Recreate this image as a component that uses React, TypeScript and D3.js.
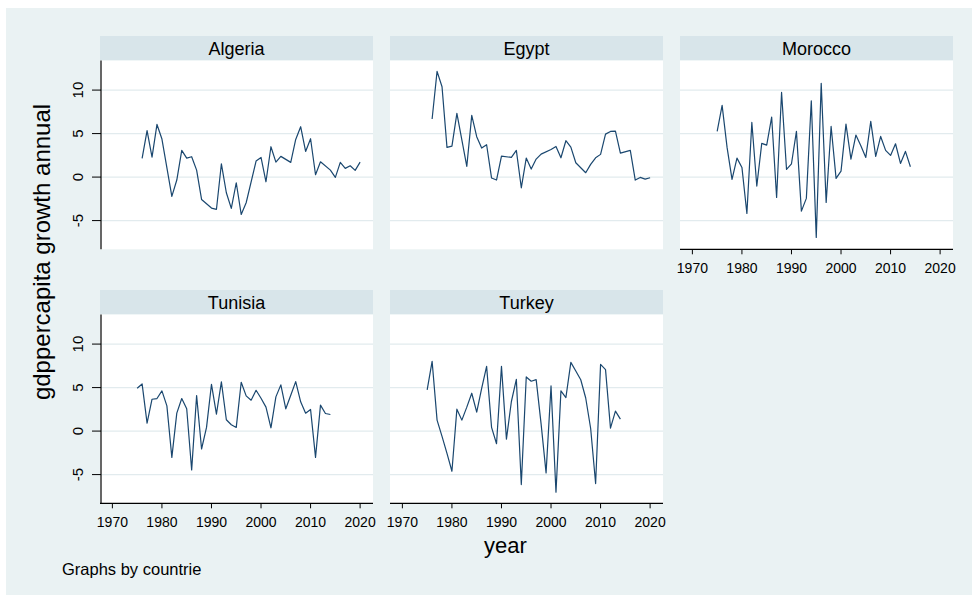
import React from "react";
import * as d3 from "d3";

const countries = ["Algeria", "Egypt", "Morocco", "Tunisia", "Turkey"];

const algeriaYears = [1976,1977,1978,1979,1980,1982,1983,1984,1985,1986,1987,1988,1990,1991,1992,1993,1994,1995,1996,1997,1999,2000,2001,2002,2003,2004,2006,2007,2008,2009,2010,2011,2012,2014,2015,2016,2017,2018,2019,2020];
const algeriaGrowth = [2.15,5.33,2.3,6.05,4.37,-2.22,-0.34,3.07,2.18,2.34,0.8,-2.57,-3.56,-3.72,1.53,-1.8,-3.6,-0.65,-4.29,-2.95,1.84,2.26,-0.54,3.49,1.72,2.38,1.69,4.33,5.79,2.95,4.41,0.27,1.76,0.8,-0.04,1.69,1.0,1.3,0.77,1.72];

const egyptYears = [1976,1977,1978,1979,1980,1981,1983,1984,1985,1986,1987,1988,1989,1990,1992,1993,1994,1995,1996,1997,1998,2000,2001,2002,2003,2004,2005,2007,2008,2009,2010,2011,2012,2013,2014,2016,2017,2018,2019,2020];
const egyptGrowth = [6.67,12.15,10.38,3.41,3.56,7.32,1.23,7.09,4.64,3.33,3.72,-0.11,-0.34,2.41,2.26,3.07,-1.23,2.18,0.92,2.07,2.64,3.18,3.52,2.22,4.18,3.45,1.65,0.5,1.46,2.22,2.61,4.94,5.25,5.29,2.76,3.07,-0.34,-0.04,-0.23,-0.08];

const moroccoYears = [1975,1976,1977,1978,1979,1980,1981,1982,1983,1984,1985,1986,1987,1988,1989,1990,1991,1992,1993,1994,1995,1996,1997,1998,1999,2000,2001,2002,2003,2004,2005,2006,2007,2008,2009,2010,2011,2012,2013,2014];
const moroccoGrowth = [5.25,8.24,3.41,-0.27,2.18,1.11,-4.18,6.28,-1.03,3.87,3.68,6.9,-2.34,9.73,0.88,1.53,5.25,-3.91,-2.45,8.77,-6.93,10.77,-2.91,5.82,-0.15,0.69,6.09,2.07,4.83,3.6,2.26,6.4,2.38,4.67,3.07,2.49,3.83,1.57,2.95,1.19];

const tunisiaYears = [1975,1976,1977,1978,1979,1980,1981,1982,1983,1984,1985,1986,1987,1988,1989,1990,1991,1992,1993,1994,1995,1996,1997,1998,1999,2000,2001,2002,2003,2004,2005,2006,2007,2008,2009,2010,2011,2012,2013,2014];
const tunisiaGrowth = [4.92,5.42,0.92,3.66,3.74,4.62,2.9,-3.02,2.06,3.74,2.56,-4.47,4.08,-2.06,0.42,5.38,1.95,5.65,1.3,0.73,0.42,5.61,4.05,3.55,4.69,3.78,2.75,0.38,3.93,5.31,2.56,4.12,5.69,3.36,2.06,2.48,-3.02,2.98,2.02,1.91];

const turkeyYears = [1975,1976,1977,1978,1979,1980,1981,1982,1983,1984,1985,1986,1987,1988,1989,1990,1991,1992,1993,1994,1995,1996,1997,1998,1999,2000,2001,2002,2003,2004,2005,2006,2007,2008,2009,2010,2011,2012,2013,2014];
const turkeyGrowth = [4.73,8.02,1.26,-0.61,-2.56,-4.62,2.52,1.26,2.75,4.35,2.18,4.92,7.44,0.42,-1.45,7.44,-0.92,3.4,5.95,-6.15,6.22,5.73,5.92,0.8,-4.81,5.19,-7.02,4.62,3.85,7.9,6.91,5.9,3.8,0.3,-6.03,7.67,7.06,0.34,2.29,1.37];

const seriesYears = [algeriaYears, egyptYears, moroccoYears, tunisiaYears, turkeyYears];
const seriesGrowth = [algeriaGrowth, egyptGrowth, moroccoGrowth, tunisiaGrowth, turkeyGrowth];

const xTicks = [1970, 1980, 1990, 2000, 2010, 2020];
const yTicks = [-5, 0, 5, 10];

const W = 972;
const H = 595;
const FONT = "'Liberation Sans', Arial, Helvetica, sans-serif";
const BG = "#eaf2f3";
const STRIP = "#d8e5ea";
const GRID = "#e2ebee";
const LINE = "#1a476f";

const colLeft = [100, 390, 680];
const panelW = 273;
const rowTop = [36, 290];
const stripH = 24.5;
const plotH = 188.8;

export default function App() {
  const x0 = d3.scaleLinear().domain([1967.5, 2022.6]).range([0, panelW]);
  const y0 = d3.scaleLinear().domain([-8.3, 13.4]).range([plotH, 0]);

  const panels = countries.map((name, i) => {
    const col = i % 3;
    const row = Math.floor(i / 3);
    const left = colLeft[col];
    const top = rowTop[row];
    const hasYAxis = col === 0;
    const hasXAxis = row === 1 || i + 3 >= countries.length;
    const data = seriesYears[i].map((yr, k) => ({ yr, v: seriesGrowth[i][k] }));
    const line = d3
      .line<{ yr: number; v: number }>()
      .x((d) => x0(d.yr))
      .y((d) => y0(d.v));
    return (
      <g key={name} transform={`translate(${left},${top})`}>
        <rect x={0} y={0} width={panelW} height={stripH} fill={STRIP} />
        <text
          x={panelW / 2}
          y={18.5}
          textAnchor="middle"
          fontSize={18}
          fontFamily={FONT}
          fill="#000"
        >
          {name}
        </text>
        <g transform={`translate(0,${stripH})`}>
          <rect x={0} y={0} width={panelW} height={plotH} fill="#fff" />
          {yTicks.map((t) => (
            <line
              key={t}
              x1={0}
              x2={panelW}
              y1={y0(t)}
              y2={y0(t)}
              stroke={GRID}
              strokeWidth={1.2}
            />
          ))}
          <path d={line(data) || ""} fill="none" stroke={LINE} strokeWidth={1.2} strokeLinejoin="round" />
          {hasYAxis && (
            <g>
              <line x1={1} x2={1} y1={0} y2={plotH} stroke="#000" strokeWidth={1.2} />
              {yTicks.map((t) => (
                <g key={t}>
                  <line x1={-8} x2={1} y1={y0(t)} y2={y0(t)} stroke="#000" strokeWidth={1} />
                  <text
                    transform={`translate(-17,${y0(t)}) rotate(-90)`}
                    textAnchor="middle"
                    fontSize={15}
                    fontFamily={FONT}
                    fill="#000"
                  >
                    {t}
                  </text>
                </g>
              ))}
            </g>
          )}
          {hasXAxis && (
            <g transform={`translate(0,${plotH})`}>
              <line x1={0} x2={panelW} y1={0} y2={0} stroke="#000" strokeWidth={1.2} />
              {xTicks.map((t) => (
                <g key={t}>
                  <line x1={x0(t)} x2={x0(t)} y1={0} y2={5} stroke="#000" strokeWidth={1} />
                  <text
                    x={x0(t)}
                    y={23.5}
                    textAnchor="middle"
                    fontSize={14}
                    fontFamily={FONT}
                    fill="#000"
                  >
                    {t}
                  </text>
                </g>
              ))}
            </g>
          )}
        </g>
      </g>
    );
  });

  return (
    <svg
      width={W}
      height={H}
      style={{ position: "absolute", left: 0, top: 0, display: "block" }}
    >
      <rect x={0} y={0} width={W} height={H} fill="#fff" />
      <rect x={6} y={8} width={W - 6} height={H - 8} fill={BG} />
      {panels}
      <text
        transform={`translate(50,252) rotate(-90)`}
        textAnchor="middle"
        fontSize={24}
        fontFamily={FONT}
        fill="#000"
      >
        gdppercapita growth annual
      </text>
      <text x={505.5} y={553} textAnchor="middle" fontSize={22} fontFamily={FONT} fill="#000">
        year
      </text>
      <text x={62} y={575} fontSize={16.5} fontFamily={FONT} fill="#000">
        Graphs by countrie
      </text>
    </svg>
  );
}
